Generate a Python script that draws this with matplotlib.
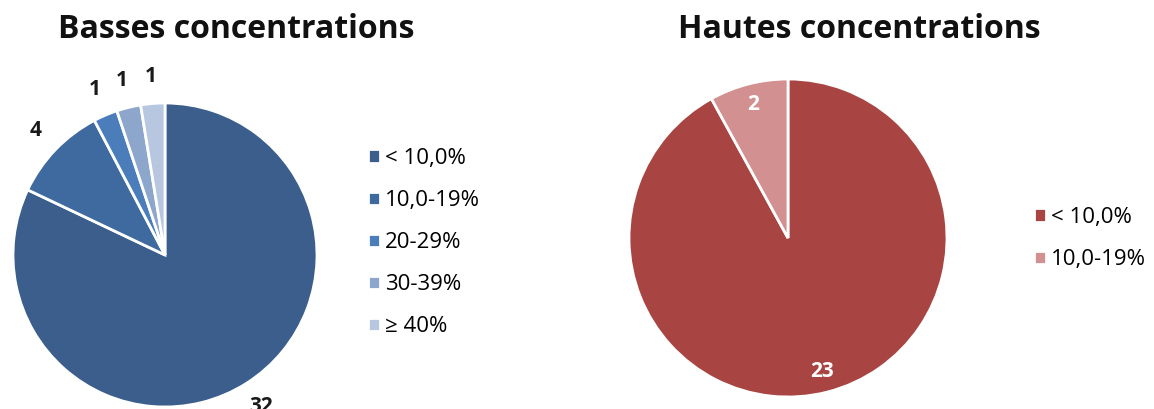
import matplotlib
matplotlib.use("Agg")
import matplotlib.pyplot as plt

plt.rcParams['font.family'] = ['Open Sans', 'DejaVu Sans']

# Data
left_title = "Basses concentrations"
left_categories = ["< 10,0%", "10,0-19%", "20-29%", "30-39%", "≥ 40%"]
left_values = [32, 4, 1, 1, 1]
left_colors = ["#3B5E8C", "#3E6AA0", "#4A7DBA", "#8DA6CC", "#B8C7E0"]

right_title = "Hautes concentrations"
right_categories = ["< 10,0%", "10,0-19%"]
right_values = [23, 2]
right_colors = ["#A84543", "#D39090"]

W, H = 1154, 409
fig = plt.figure(figsize=(W / 100, H / 100), dpi=100)
fig.patch.set_facecolor("white")


def px_axes(cx, cy, r):
    return fig.add_axes([(cx - r) / W, (H - cy - r) / H, 2 * r / W, 2 * r / H])


def value_fmt(values):
    total = sum(values)
    return lambda p: f"{round(p * total / 100):d}"


# Left pie
axL = px_axes(165, 255, 152)
wedgesL, _, autoL = axL.pie(left_values, colors=left_colors, startangle=90,
                            counterclock=False, autopct=value_fmt(left_values),
                            pctdistance=1.18,
                            wedgeprops=dict(edgecolor="white", linewidth=2),
                            textprops=dict(fontsize=15, fontweight="bold", color="#1a1a1a"))
axL.set_xlim(-1, 1)
axL.set_ylim(-1, 1)
for t in autoL:
    t.set_clip_on(False)

# Right pie
axR = px_axes(788, 238, 159)
wedgesR, _, autoR = axR.pie(right_values, colors=right_colors, startangle=90,
                            counterclock=False, autopct=value_fmt(right_values),
                            pctdistance=0.87,
                            wedgeprops=dict(edgecolor="white", linewidth=2),
                            textprops=dict(fontsize=15, fontweight="bold", color="white"))
axR.set_xlim(-1, 1)
axR.set_ylim(-1, 1)

# Titles
fig.text(236 / W, 1 - 30 / H, left_title, ha="center", va="center",
         fontsize=23, fontweight="bold", color="#111111")
fig.text(859 / W, 1 - 30 / H, right_title, ha="center", va="center",
         fontsize=23, fontweight="bold", color="#111111")

# Legends
leg_kw = dict(frameon=False, fontsize=16, handlelength=0.55, handleheight=0.55,
              handletextpad=0.2, labelspacing=0.95, borderaxespad=0, borderpad=0)
fig.legend(wedgesL, left_categories, loc="upper left",
           bbox_to_anchor=(368 / W, 1 - 148 / H), **leg_kw)
fig.legend(wedgesR, right_categories, loc="upper left",
           bbox_to_anchor=(1034 / W, 1 - 207 / H), **leg_kw)

fig.savefig("out.png", dpi=100, facecolor="white")
